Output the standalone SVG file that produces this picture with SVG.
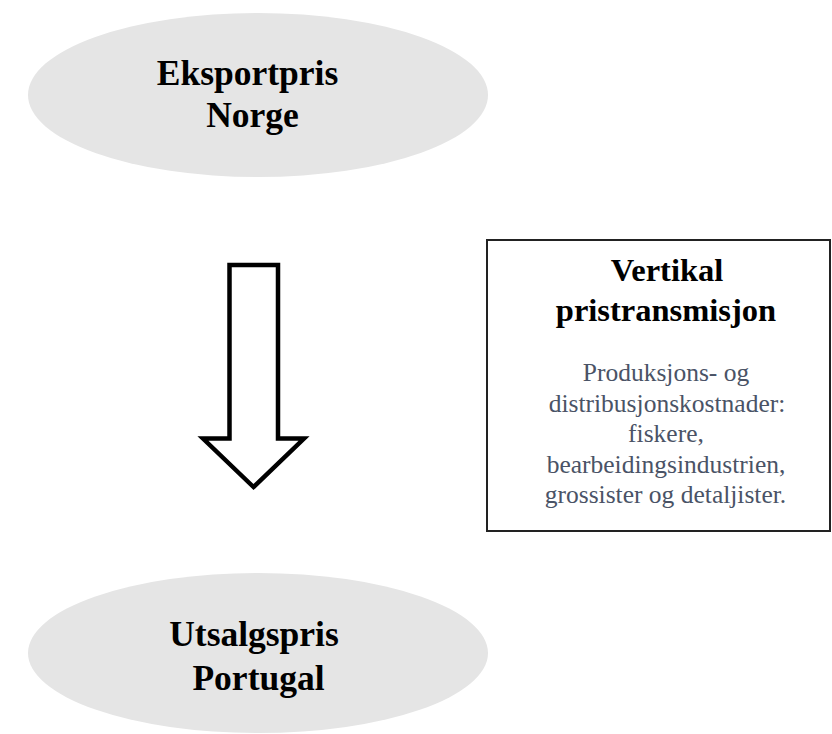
<svg xmlns="http://www.w3.org/2000/svg" width="832" height="734" viewBox="0 0 832 734">
<style>
.ell{fill:#e5e5e5;stroke:none}
.big{font-family:"Liberation Serif","Times New Roman",serif;font-weight:bold;font-size:35.5px;fill:#000;text-anchor:middle}
.ttl{font-family:"Liberation Serif","Times New Roman",serif;font-weight:bold;font-size:32.5px;fill:#000;text-anchor:middle}
.sub{font-family:"Liberation Serif","Times New Roman",serif;font-size:25.5px;fill:#4a5366;text-anchor:middle}
.box{fill:#fff;stroke:#222;stroke-width:2}
.arrow{fill:#fff;stroke:#000;stroke-width:4.5;stroke-linejoin:miter}
</style>
<rect width="832" height="734" fill="#fff"/>
<g id="node-eksportpris">
<ellipse class="ell" cx="258" cy="95" rx="230" ry="82"/>
<text class="big" x="247.5" y="85">Eksportpris</text>
<text class="big" x="252.5" y="127">Norge</text>
</g>
<g id="node-utsalgspris">
<ellipse class="ell" cx="258" cy="653" rx="230" ry="80"/>
<text class="big" x="254" y="646">Utsalgspris</text>
<text class="big" x="258.5" y="690">Portugal</text>
</g>
<g id="node-vertikal">
<rect class="box" x="487" y="240" width="343" height="291"/>
<text class="ttl" x="667" y="281">Vertikal</text>
<text class="ttl" x="666" y="321">pristransmisjon</text>
<text class="sub" x="666" y="381">Produksjons- og</text>
<text class="sub" x="667" y="411.5">distribusjonskostnader:</text>
<text class="sub" x="666" y="442">fiskere,</text>
<text class="sub" x="666" y="472.5">bearbeidingsindustrien,</text>
<text class="sub" x="665.5" y="503">grossister og detaljister.</text>
</g>
<g id="connectors">
<polygon class="arrow" points="229.5,265 278,265 278,438.5 304,438.5 253.5,487 203,438.5 229.5,438.5"/>
</g>
</svg>
